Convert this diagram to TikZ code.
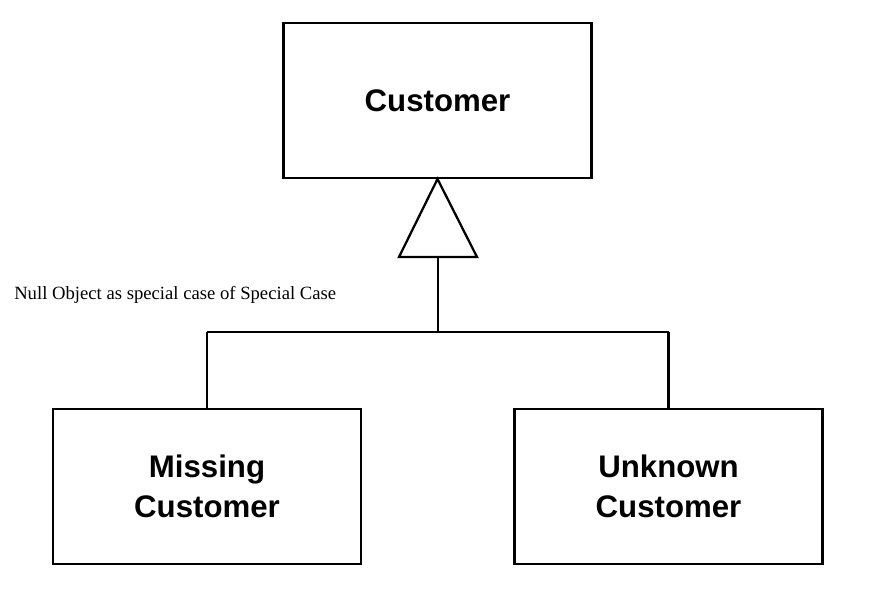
\documentclass[tikz,border=0pt]{standalone}
\usepackage{fontspec}
\setmainfont{Liberation Serif}
\newfontfamily\boxfont{Liberation Sans}
\begin{document}
\begin{tikzpicture}[x=0.75pt,y=-0.75pt,
  cls/.style={draw,line width=1.7pt,minimum width=231pt,minimum height=116pt,
    inner sep=0pt,align=center,font=\boxfont\bfseries\fontsize{23.4}{30}\selectfont},
  conn/.style={line width=1.7pt}]
\useasboundingbox (0,0) rectangle (887,594);
\node[cls] (cust) at (437.5,100.5) {Customer};
\node[cls] (miss) at (207,486.5) {Missing\\Customer};
\node[cls] (unk) at (668.5,486.5) {Unknown\\Customer};
\coordinate (apex) at (cust.south);
\coordinate (bl) at (399,257);
\coordinate (br) at (477,257);
\coordinate (base) at (438,257);
\coordinate (junc) at (438,332);
\draw[conn,line join=miter] (apex) -- (br) -- (bl) -- cycle;
\draw[conn] (base) -- (junc);
\draw[conn] (miss.north |- junc) -- (unk.north |- junc);
\draw[conn] (miss.north |- junc) -- (miss.north);
\draw[conn] (unk.north |- junc) -- (unk.north);
\node[anchor=west,inner sep=0pt,font=\fontsize{14}{16}\selectfont] (cap) at (14,295) {Null Object as special case of Special Case};
\end{tikzpicture}
\end{document}
